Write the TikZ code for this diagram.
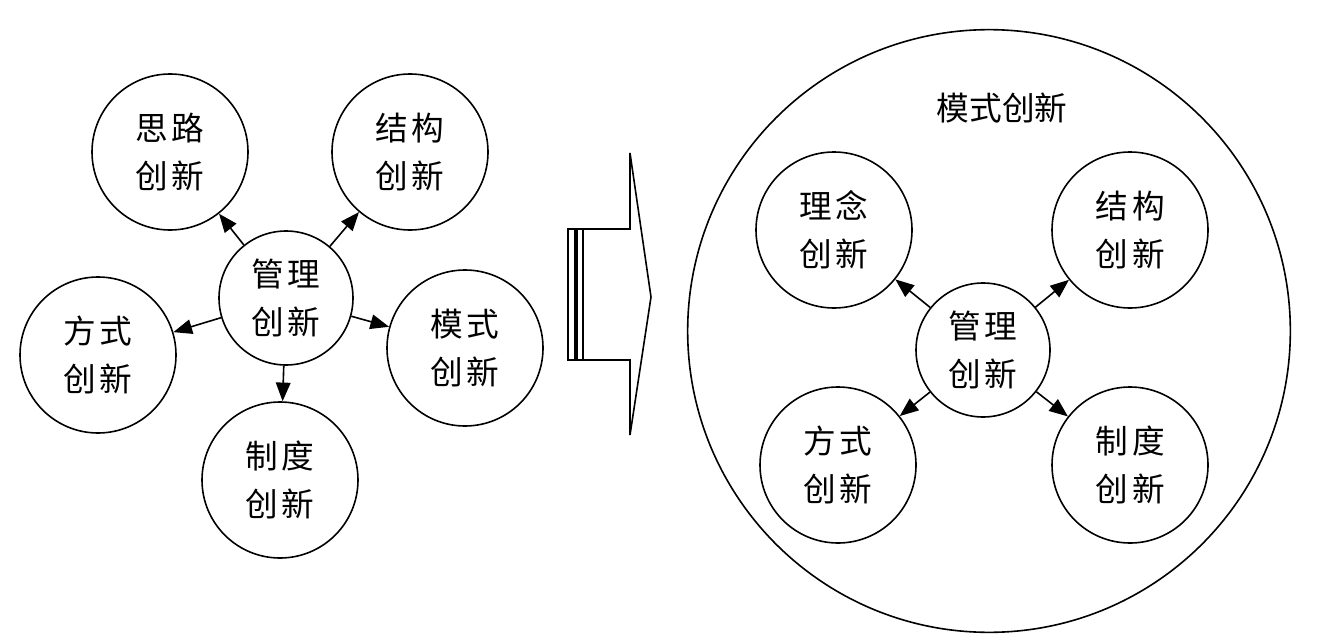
\documentclass[tikz,border=0pt]{standalone}
\usepackage{fontspec}
\setmainfont{Noto Sans CJK SC}
\usepackage{tikz}
\usetikzlibrary{arrows.meta, positioning}

\newcommand{\cgap}{\hspace{3pt}}

\begin{document}
\begin{tikzpicture}[
  x=0.75pt, y=-0.75pt,
  font=\fontsize{24.5}{36}\selectfont,
  idea/.style={draw, circle, line width=1.2pt, align=center, inner sep=0pt, minimum size=117pt},
  core/.style={idea, minimum size=100.5pt},
  arr/.style={-{Triangle[length=14pt, width=11pt]}, line width=1.2pt}
]
\useasboundingbox (0,0) rectangle (1327,642);

% left: five kinds around the core
\node[core] (mgmtL) at (286,298) {管\cgap 理\\创\cgap 新};
\node[idea] (siluL) at (170,152) {思\cgap 路\\创\cgap 新};
\node[idea] (jiegouL) at (410,152) {结\cgap 构\\创\cgap 新};
\node[idea] (fangshiL) at (98,355) {方\cgap 式\\创\cgap 新};
\node[idea] (moshiL) at (465,348) {模\cgap 式\\创\cgap 新};
\node[idea] (zhiduL) at (280,480) {制\cgap 度\\创\cgap 新};

\draw[arr] (mgmtL) -- (siluL);
\draw[arr] (mgmtL) -- (jiegouL);
\draw[arr] (mgmtL) -- (fangshiL);
\draw[arr] (mgmtL) -- (moshiL);
\draw[arr] (mgmtL) -- (zhiduL);

% middle arrow
\draw[line width=1.2pt, line join=miter]
  (583,229) -- (630,229) -- (630,153) -- (651,297) -- (630,435) -- (630,360) -- (583,360) -- cycle;
\draw[line width=1pt] (568,229) rectangle (575,360);
\draw[line width=1pt] (577,229) rectangle (583,360);

% right: mode innovation
\node[draw, circle, line width=1.2pt, minimum size=452pt, inner sep=0pt] (moshiR) at (989,331) {};
\node (title) at (1002,108) {模式创新};
\node[core] (mgmtR) at (983,350) {管\cgap 理\\创\cgap 新};
\node[idea] (linianR) at (834,230) {理\cgap 念\\创\cgap 新};
\node[idea] (jiegouR) at (1130,230) {结\cgap 构\\创\cgap 新};
\node[idea] (fangshiR) at (838,465) {方\cgap 式\\创\cgap 新};
\node[idea] (zhiduR) at (1130,465) {制\cgap 度\\创\cgap 新};

\draw[arr] (mgmtR) -- (linianR);
\draw[arr] (mgmtR) -- (jiegouR);
\draw[arr] (mgmtR) -- (fangshiR);
\draw[arr] (mgmtR) -- (zhiduR);
\end{tikzpicture}
\end{document}
